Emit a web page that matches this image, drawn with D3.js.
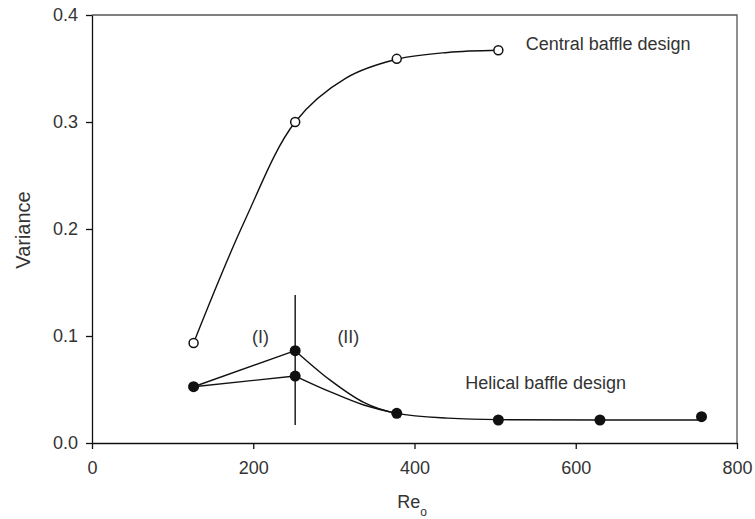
<!DOCTYPE html>
<html>
<head>
<meta charset="utf-8">
<script src="https://cdn.jsdelivr.net/npm/d3@7"></script>
<style>
  body { margin: 0; background: #fff; }
  svg text { font-family: "Liberation Sans", Arial, sans-serif; fill: #333; }
</style>
</head>
<body>
<script>
// measured points (Re_o, variance)
const central_pts = [[126, 0.0935], [252, 0.300], [378, 0.359], [504, 0.367]];
const helical_pts = [[126, 0.0526], [252, 0.0863], [252, 0.0626], [378, 0.0277], [504, 0.0215], [630, 0.0215], [756, 0.0246]];

// fitted lines
const central_fit = [[126, 0.0935], [189, 0.207], [252, 0.300], [315, 0.341], [378, 0.3586], [441, 0.365], [504, 0.367]];
const regime1_upper = [[126, 0.0526], [252, 0.0863]];
const regime1_lower = [[126, 0.0526], [252, 0.0626]];
const regime2_upper = [[252, 0.0863], [295, 0.059], [337, 0.038], [378, 0.0277], [441, 0.0232], [504, 0.0218], [630, 0.0215], [756, 0.0215]];
const regime2_lower = [[252, 0.0626], [295, 0.048], [337, 0.0355], [378, 0.0277]];
const divider = [[252, 0.1383], [252, 0.0168]];

const x_ticks = [0, 200, 400, 600, 800];
const y_ticks = [0.0, 0.1, 0.2, 0.3, 0.4];

const W = 755, H = 519;
const m = {left: 92, right: 737, top: 15, bottom: 443};

const x = d3.scaleLinear().domain([0, 800]).range([m.left, m.right]);
const y = d3.scaleLinear().domain([0, 0.4]).range([m.bottom, m.top]);

const svg = d3.select("body").append("svg")
    .attr("width", W)
    .attr("height", H);

// frame (top and right)
svg.append("path")
    .attr("d", "M" + m.left + "," + m.top + "H" + m.right + "V" + m.bottom)
    .attr("fill", "none")
    .attr("stroke", "#555")
    .attr("stroke-width", 1.3);

const x_axis = svg.append("g")
    .attr("transform", "translate(0," + m.bottom + ")")
    .call(d3.axisBottom(x).tickValues(x_ticks).tickSize(6).tickSizeOuter(0).tickPadding(12));
const y_axis = svg.append("g")
    .attr("transform", "translate(" + m.left + ",0)")
    .call(d3.axisLeft(y).tickValues(y_ticks).tickFormat(d3.format(".1f")).tickSize(6).tickSizeOuter(0).tickPadding(8));

[x_axis, y_axis].forEach(function(g) {
  g.selectAll("path, line").attr("stroke", "#111").attr("stroke-width", 1.3);
  g.selectAll("text").attr("font-size", 18).attr("fill", "#333")
      .attr("font-family", "Liberation Sans, Arial, sans-serif");
});

const line = d3.line()
    .x(function(d) { return x(d[0]); })
    .y(function(d) { return y(d[1]); });
const smooth = d3.line()
    .x(function(d) { return x(d[0]); })
    .y(function(d) { return y(d[1]); })
    .curve(d3.curveCatmullRom.alpha(0.5));
const decay = d3.line()
    .x(function(d) { return x(d[0]); })
    .y(function(d) { return y(d[1]); })
    .curve(d3.curveMonotoneX);

function draw(data, gen) {
  svg.append("path")
      .datum(data)
      .attr("d", gen)
      .attr("fill", "none")
      .attr("stroke", "#111")
      .attr("stroke-width", 1.4);
}

draw(central_fit, smooth);
draw(regime1_upper, line);
draw(regime1_lower, line);
draw(regime2_upper, decay);
draw(regime2_lower, decay);
draw(divider, line);

svg.selectAll("circle.central")
  .data(central_pts)
  .enter().append("circle")
    .attr("class", "central")
    .attr("cx", function(d) { return x(d[0]); })
    .attr("cy", function(d) { return y(d[1]); })
    .attr("r", 4.5)
    .attr("fill", "#fff")
    .attr("stroke", "#111")
    .attr("stroke-width", 1.5);

svg.selectAll("circle.helical")
  .data(helical_pts)
  .enter().append("circle")
    .attr("class", "helical")
    .attr("cx", function(d) { return x(d[0]); })
    .attr("cy", function(d) { return y(d[1]); })
    .attr("r", 5.5)
    .attr("fill", "#111");

// annotations
function note(txt, xv, yv, anchor) {
  svg.append("text")
      .attr("x", x(xv))
      .attr("y", y(yv))
      .attr("text-anchor", anchor || "start")
      .attr("font-size", 18)
      .text(txt);
}
note("Central baffle design", 538, 0.367);
note("Helical baffle design", 463, 0.0505);
note("(I)", 209, 0.0937, "middle");
note("(II)", 318, 0.0937, "middle");

// axis titles
svg.append("text")
    .attr("transform", "translate(30,230) rotate(-90)")
    .attr("text-anchor", "middle")
    .attr("font-size", 20)
    .text("Variance");

const xt = svg.append("text")
    .attr("x", 412)
    .attr("y", 508)
    .attr("text-anchor", "middle")
    .attr("font-size", 18);
xt.append("tspan").text("Re");
xt.append("tspan").attr("font-size", 12).attr("dy", 8).text("o");
</script>
</body>
</html>
